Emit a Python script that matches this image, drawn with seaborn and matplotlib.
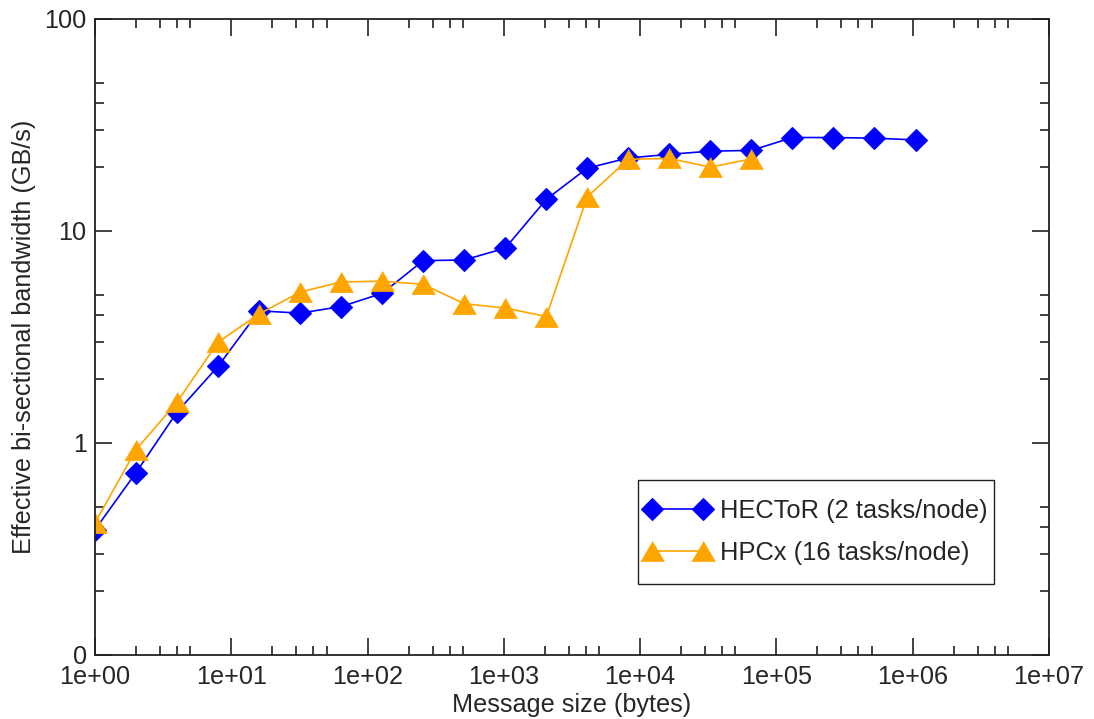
import matplotlib
matplotlib.use("Agg")
import matplotlib.pyplot as plt
import seaborn as sns
import numpy as np
import pandas as pd
from matplotlib.ticker import FixedLocator, NullFormatter
from matplotlib.patches import Rectangle

# ---- data ----
msg_sizes = [2 ** i for i in range(21)]
hector_bw = [0.39, 0.725, 1.40, 2.30, 4.20, 4.10, 4.40, 5.08, 7.25, 7.30, 8.30,
             14.1, 19.8, 22.1, 23.0, 23.8, 24.0, 27.6, 27.6, 27.4, 26.9]
hpcx_sizes = [2 ** i for i in range(17)]
hpcx_bw = [0.42, 0.93, 1.56, 2.99, 4.06, 5.15, 5.75, 5.80, 5.60, 4.54, 4.33,
           3.95, 14.5, 21.8, 22.0, 20.0, 21.9]
series_labels = ["HECToR (2 tasks/node)", "HPCx (16 tasks/node)"]
x_tick_vals = [1e0, 1e1, 1e2, 1e3, 1e4, 1e5, 1e6, 1e7]
x_tick_labels = ["1e+00", "1e+01", "1e+02", "1e+03", "1e+04", "1e+05", "1e+06", "1e+07"]
y_tick_vals = [0.1, 1, 10, 100]
y_tick_labels = ["0", "1", "10", "100"]

sns.set_style("ticks")
plt.rcParams["font.family"] = ["Liberation Sans", "DejaVu Sans"]

FS = 18.2

fig = plt.figure(figsize=(10.94, 7.19), dpi=100)
ax = fig.add_axes([95 / 1094, 64 / 719, 954 / 1094, 636 / 719])

hector_df = pd.DataFrame({"size": msg_sizes, "bw": hector_bw})
hpcx_df = pd.DataFrame({"size": hpcx_sizes, "bw": hpcx_bw})

tri = [(-1, -0.85), (1, -0.85), (0, 0.85)]

sns.lineplot(data=hector_df, x="size", y="bw", ax=ax, color="#0000FF",
             marker="D", markersize=11.5, markeredgewidth=0.8,
             markeredgecolor="#0000FF", linewidth=1.2, label=series_labels[0],
             errorbar=None)
sns.lineplot(data=hpcx_df, x="size", y="bw", ax=ax, color="#FFA500",
             marker=tri, markersize=17, markeredgewidth=0.5,
             markeredgecolor="#FFA500", linewidth=1.2, label=series_labels[1],
             errorbar=None)

ax.set_xscale("log")
ax.set_yscale("log")
ax.set_xlim(1, 1e7)
ax.set_ylim(0.1, 100)

ax.xaxis.set_major_locator(FixedLocator(x_tick_vals))
ax.set_xticklabels(x_tick_labels)
xminor = [m * 10 ** d for d in range(7) for m in (2, 3, 4, 5)]
ax.xaxis.set_minor_locator(FixedLocator(xminor))
ax.xaxis.set_minor_formatter(NullFormatter())

ax.yaxis.set_major_locator(FixedLocator(y_tick_vals))
ax.set_yticklabels(y_tick_labels)
yminor = [m * 10 ** d for d in range(-1, 2) for m in (2, 3, 4, 5)]
ax.yaxis.set_minor_locator(FixedLocator(yminor))
ax.yaxis.set_minor_formatter(NullFormatter())

ax.tick_params(which="both", direction="in", top=True, right=True,
               color="#222222", width=1.2, labelsize=FS)
ax.tick_params(which="major", length=12.5)
ax.tick_params(axis="x", which="major", pad=7)
ax.tick_params(axis="y", which="major", pad=6)
ax.tick_params(which="minor", length=6.5)

for sp in ax.spines.values():
    sp.set_linewidth(1.3)
    sp.set_color("#222222")
    sp.set_visible(True)

ax.set_xlabel("Message size (bytes)", fontsize=FS, labelpad=3)
ax.set_ylabel("Effective bi-sectional bandwidth (GB/s)", fontsize=FS, labelpad=6)

# legend content (frameless) plus a frame rectangle matching the reference box
box_cx, box_cy = 0.7558, 0.1934
box_w, box_h = 0.3732, 0.1635
leg = ax.legend(loc="center", bbox_to_anchor=(box_cx, box_cy),
                borderaxespad=0, numpoints=2, fontsize=18.4, frameon=False,
                handlelength=2.6, handletextpad=0.38, borderpad=0.0,
                labelspacing=0.67)
ax.add_patch(Rectangle((box_cx - box_w / 2, box_cy - box_h / 2), box_w, box_h,
                       transform=ax.transAxes, facecolor="white",
                       edgecolor="#222222", linewidth=1.0, zorder=4))
leg.set_zorder(5)

fig.savefig("out.png", dpi=100)
